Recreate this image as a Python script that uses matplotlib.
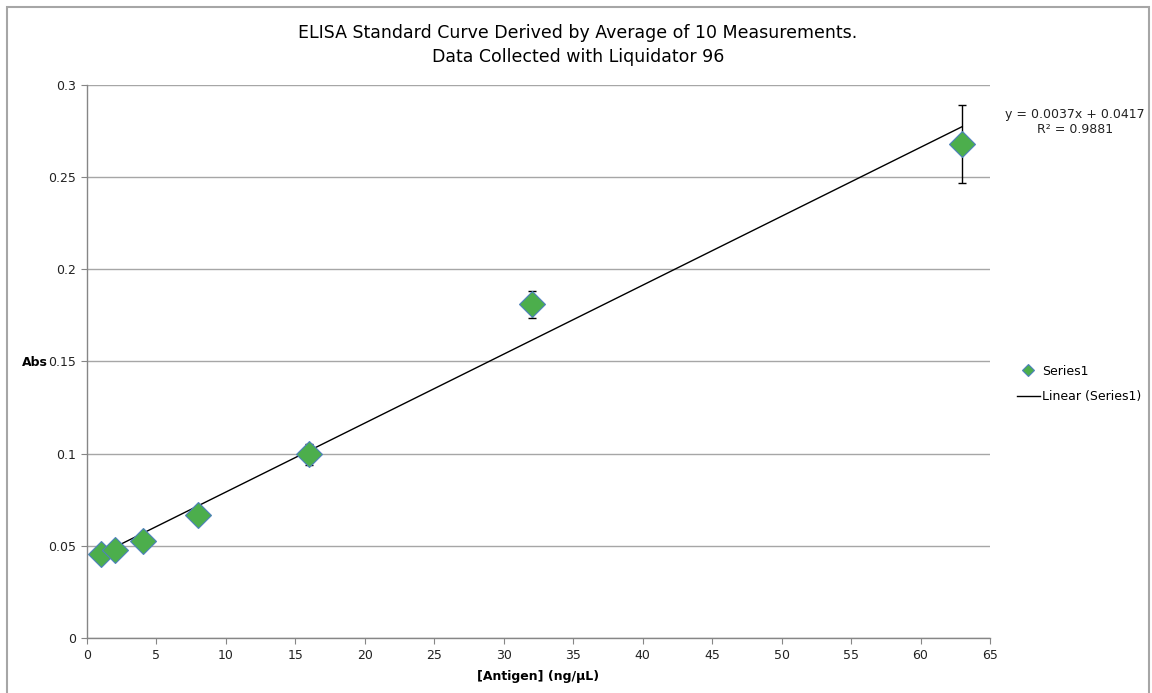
import matplotlib
matplotlib.use("Agg")
import matplotlib.pyplot as plt
import matplotlib.patches as mpatches
import numpy as np

# Data
antigen = [1, 2, 4, 8, 16, 32, 63]
absorbance = [0.0456, 0.0478, 0.0527, 0.0668, 0.0998, 0.1810, 0.2680]
abs_err = [0.0008, 0.0010, 0.0014, 0.0020, 0.0057, 0.0075, 0.0210]
trend_slope = 0.00374
trend_intercept = 0.0418
x_ticks = [0, 5, 10, 15, 20, 25, 30, 35, 40, 45, 50, 55, 60, 65]
y_ticks = [0, 0.05, 0.1, 0.15, 0.2, 0.25, 0.3]
y_tick_labels = ["0", "0.05", "0.1", "0.15", "0.2", "0.25", "0.3"]
title = "ELISA Standard Curve Derived by Average of 10 Measurements.\nData Collected with Liquidator 96"
equation = "y = 0.0037x + 0.0417\nR² = 0.9881"

plt.rcParams['font.family'] = ['DejaVu Sans']

fig = plt.figure(figsize=(11.52, 6.93), dpi=100)
ax = fig.add_axes([87/1152, 1 - 638/693, (990 - 87)/1152, (638 - 85)/693])

# chart border
fig.patches.append(mpatches.Rectangle((7/1152, -0.02), (1149 - 7)/1152, 1 - 7/693 + 0.02,
                                      transform=fig.transFigure, fill=False,
                                      edgecolor="#a6a6a6", linewidth=1.5, zorder=0))

ax.set_xlim(0, 65)
ax.set_ylim(0, 0.3)
ax.set_xticks(x_ticks)
ax.set_yticks(y_ticks)
ax.set_yticklabels(y_tick_labels)
ax.yaxis.grid(True, color="#a6a6a6", linewidth=1.0)
ax.set_axisbelow(True)
for s in ["top", "right"]:
    ax.spines[s].set_visible(False)
for s in ["left", "bottom"]:
    ax.spines[s].set_color("#868686")
    ax.spines[s].set_linewidth(1.0)
ax.tick_params(axis="both", direction="out", length=4, color="#868686",
               labelsize=9, labelcolor="#222222", pad=4)

# trend line
xt = np.array([min(antigen), max(antigen)])
ax.plot(xt, trend_slope * xt + trend_intercept, color="black", linewidth=1.0,
        label="Linear (Series1)", zorder=2)

# data with error bars
ax.errorbar(antigen, absorbance, yerr=abs_err, fmt="none", ecolor="black",
            elinewidth=1.0, capsize=3, capthick=1.0, zorder=3)
ax.plot(antigen, absorbance, linestyle="none", marker="D", markersize=13.5,
        markerfacecolor="#4cae4c", markeredgecolor="#4f81bd", markeredgewidth=0.8,
        label="Series1", zorder=4)

fig.text(578/1152, 1 - 45/693, title, fontsize=12.5, ha="center", va="center",
         color="black", linespacing=1.45)
ax.set_xlabel("[Antigen] (ng/µL)", fontsize=9, fontweight="bold", labelpad=6)
fig.text(35/1152, 1 - 363/693, "Abs", fontsize=9, fontweight="bold",
         ha="center", va="center")

fig.text(1075/1152, 1 - 122/693, equation, fontsize=9, ha="center", va="center",
         linespacing=1.2, color="#222222")

handles, labels = ax.get_legend_handles_labels()
order = [1, 0]
leg = fig.legend([handles[i] for i in order], [labels[i] for i in order],
                 loc="center left", bbox_to_anchor=(1012/1152, 1 - 384/693),
                 frameon=False, fontsize=9, handlelength=1.8, labelspacing=1.0,
                 borderaxespad=0, handletextpad=0.2, markerscale=0.45)

fig.savefig("out.png", dpi=100)
